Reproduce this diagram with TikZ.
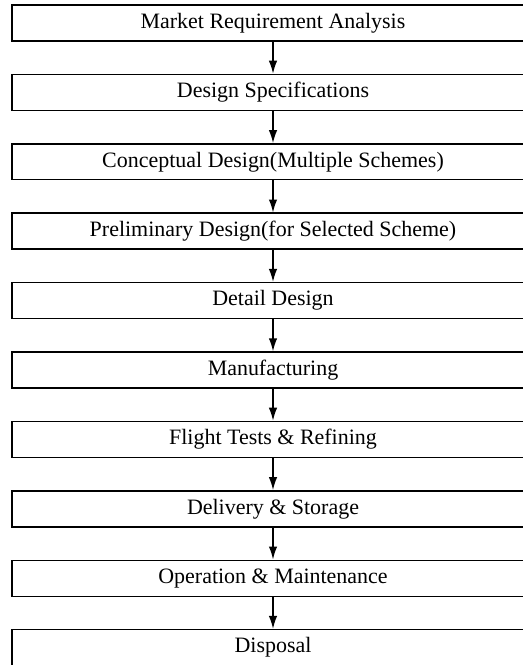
\documentclass[tikz,border=0pt]{standalone}
\usepackage{fontspec}
\setmainfont{Liberation Serif}
\usetikzlibrary{arrows.meta}

\begin{document}
\begin{tikzpicture}[x=0.02cm,y=-0.02cm,
    stage/.style={draw, line width=0.8pt, minimum width=10.44cm, minimum height=0.72cm,
      inner sep=0pt, font=\fontsize{12.5}{14}\selectfont},
    flow/.style={line width=0.8pt, -{Latex[length=2.6mm,width=1.7mm]}}]
  % page frame, box right edges run off the page
  \path[use as bounding box, clip] (0,0) rectangle (523,665);
  % stages
  \foreach \name/\txt [count=\i] in {market/Market Requirement Analysis,
      specs/Design Specifications,
      concept/Conceptual Design(Multiple Schemes),
      prelim/Preliminary Design(for Selected Scheme),
      detail/Detail Design,
      manuf/Manufacturing,
      flight/Flight Tests \& Refining,
      deliv/Delivery \& Storage,
      oper/Operation \& Maintenance,
      dispo/Disposal}
    \node[stage] (\name) at (273,{23+69.4*(\i-1)}) {\txt};
  % arrows between stages
  \foreach \a/\b in {market/specs, specs/concept, concept/prelim, prelim/detail,
      detail/manuf, manuf/flight, flight/deliv, deliv/oper, oper/dispo}
    \draw[flow] (\a) -- (\b);
\end{tikzpicture}
\end{document}
